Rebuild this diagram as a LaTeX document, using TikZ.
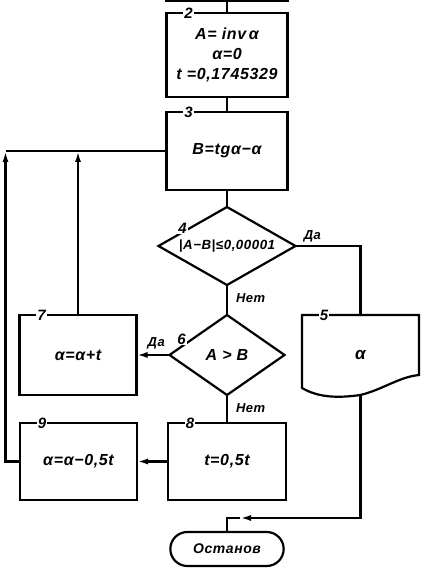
\documentclass[tikz,border=0pt]{standalone}
\usepackage{fontspec}
\setmainfont{Liberation Sans}[LetterSpace=4]
\usetikzlibrary{positioning,arrows.meta,calc,shapes.geometric,shapes.misc}
\tikzset{
  blk/.style={rectangle,draw,line width=2.2pt,outer sep=0pt,minimum width=118pt,minimum height=80pt,
    inner sep=2pt,align=center,font=\bfseries\itshape\fontsize{16}{20}\selectfont},
  dec/.style={diamond,draw,line width=2.2pt,outer sep=0pt,inner sep=0pt,align=center,
    font=\bfseries\itshape\fontsize{16}{18}\selectfont},
  docblk/.style={rectangle,outer sep=0pt,minimum width=117pt,minimum height=80pt,
    font=\bfseries\itshape\fontsize{17}{18}\selectfont},
  term/.style={rounded rectangle,draw,line width=2.2pt,outer sep=0pt,minimum width=120pt,
    minimum height=34pt,font=\bfseries\itshape\fontsize{14}{16}\selectfont},
  num/.style={fill=white,inner sep=1pt,font=\bfseries\itshape\fontsize{15}{16}\selectfont},
  lbl/.style={inner sep=1pt,font=\bfseries\itshape\fontsize{13}{15}\selectfont},
  line/.style={line width=2.2pt},
  ptr/.style={line width=2.2pt,-{Latex[length=11pt,width=6pt]}},
}

\begin{document}
\begin{tikzpicture}[x=1pt,y=1pt,line join=miter]
  \useasboundingbox (0,0) rectangle (422,576);
  \clip (0,0) rectangle (422,576);
  % main column
  \node[blk,minimum width=121pt] (b1) at (227,615) {};
  \node[blk,minimum width=121pt,minimum height=84pt] (b2) at (227,521)
    {A= inv\,α\\α=0\\t =0,1745329};
  \node[blk,minimum width=121pt,minimum height=78pt,below=15pt of b2] (b3) {B=tgα−α};
  \node[dec,aspect=1.75,minimum width=137pt,minimum height=78pt,below=17pt of b3,
    font=\bfseries\itshape\fontsize{13.3}{14}\selectfont] (d4) {|A−B|≤0,00001};
  \node[dec,aspect=1.45,minimum width=115pt,minimum height=80pt,below=30pt of d4] (d6) {A > B};
  \node[blk,minimum height=77pt,below=28pt of d6] (b8) {t=0,5t};
  \node[term,below=32pt of b8] (stop) {Останов};
  % side blocks
  \node[blk,minimum width=117pt,left=33pt of d6] (b7) {α=α+t};
  \node[blk,minimum width=117pt,minimum height=77pt,left=31pt of b8] (b9) {α=α−0,5t};
  \node[docblk,right=17.5pt of d6] (b5) {α};
  \draw[line] (b5.north west) -- (b5.north east) -- ([yshift=20pt]b5.south east)
    .. controls +(-20,-2) and +(23.5,6) .. (b5.south)
    .. controls +(-21.5,-3) and +(17,-10) .. ([yshift=7pt]b5.south west) -- cycle;
  % numbers
  \foreach \n/\k in {b2/2,b3/3,b5/5,b7/7,b8/8,b9/9}
    \node[num] at ([xshift=22pt]\n.north west) {\k};
  \node[num] at ([shift={(24,18)}]d4.west) {4};
  \node[num] at ([shift={(12,16)}]d6.west) {6};
  % connectors
  \coordinate (lp) at ($(b3.west)+(-161,0)$);
  \coordinate (jn) at ($(stop.north)+(13,14)$);
  \draw[line] (b1) -- (b2);
  \draw[line] (b2) -- (b3);
  \draw[line] (b3) -- (d4);
  \draw[line] (d4.south) -- node[lbl,pos=0.45,right=7pt]{Нет} (d6.north);
  \draw[line] (d4.east) -| node[lbl,pos=0.13,above=2pt]{Да} (b5.north);
  \draw[ptr] (d6.west) -- node[lbl,pos=0.4,above=4pt]{Да} (b7.east);
  \draw[line] (d6.south) -- node[lbl,pos=0.45,right=7pt]{Нет} (b8.north);
  \draw[ptr] (b8.west) -- (b9.east);
  \draw[ptr] (b7.north) -- (b7.north |- lp);
  \draw[ptr] (b9.west) -| (lp);
  \draw[line] (b3.west) -- (lp);
  \draw[ptr] (b5.south) |- (jn);
  \draw[line] (jn) -| (stop.north);
\end{tikzpicture}
\end{document}
